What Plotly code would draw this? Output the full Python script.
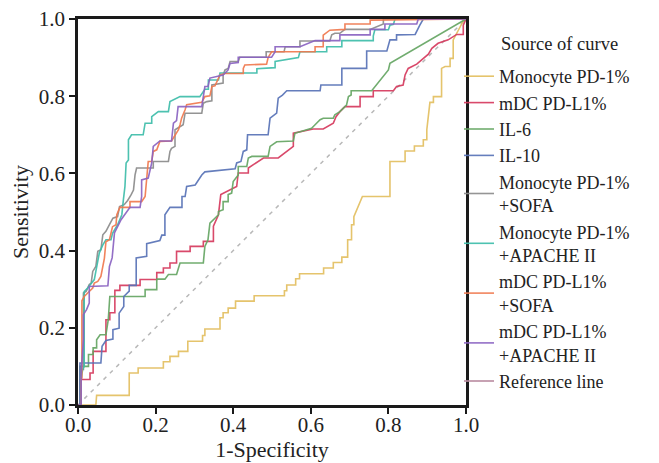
import plotly.graph_objects as go

# ---------------- data ----------------
TICK_VALUES = [0.0, 0.2, 0.4, 0.6, 0.8, 1.0]
TICK_LABELS = ["0.0", "0.2", "0.4", "0.6", "0.8", "1.0"]
X_TITLE = "1-Specificity"
Y_TITLE = "Sensitivity"
LEGEND_TITLE = "Source of curve"

# ROC vertices as (1-specificity, sensitivity)
MONOCYTE_PD1 = [(0, 0), (0.046, 0), (0.048, 0.025), (0.132, 0.025), (0.132, 0.083), (0.155, 0.083),
                (0.155, 0.096), (0.220, 0.096), (0.220, 0.112), (0.237, 0.112), (0.237, 0.126),
                (0.259, 0.126), (0.259, 0.139), (0.283, 0.139), (0.283, 0.165), (0.321, 0.165),
                (0.321, 0.180), (0.327, 0.180), (0.327, 0.197), (0.366, 0.197), (0.366, 0.226),
                (0.374, 0.226), (0.374, 0.239), (0.387, 0.239), (0.387, 0.251), (0.406, 0.251),
                (0.406, 0.269), (0.454, 0.269), (0.454, 0.283), (0.532, 0.283), (0.532, 0.296),
                (0.538, 0.296), (0.538, 0.311), (0.561, 0.311), (0.561, 0.327), (0.571, 0.327),
                (0.571, 0.340), (0.633, 0.340), (0.633, 0.355), (0.658, 0.355), (0.658, 0.369),
                (0.680, 0.369), (0.680, 0.383), (0.695, 0.383), (0.695, 0.428), (0.705, 0.428),
                (0.705, 0.467), (0.711, 0.467), (0.711, 0.488), (0.719, 0.506), (0.733, 0.540),
                (0.804, 0.540), (0.804, 0.631), (0.843, 0.631), (0.843, 0.658), (0.867, 0.658),
                (0.867, 0.671), (0.890, 0.671), (0.890, 0.687), (0.899, 0.687), (0.899, 0.713),
                (0.907, 0.784), (0.916, 0.784), (0.916, 0.799), (0.937, 0.799), (0.937, 0.872),
                (0.946, 0.877), (0.959, 0.877), (0.959, 0.898), (0.967, 0.898), (0.967, 0.946),
                (0.993, 0.995), (1, 1)]

MDC_PDL1 = [(0, 0), (0.005, 0), (0.005, 0.066), (0.031, 0.066), (0.031, 0.083), (0.039, 0.083),
            (0.039, 0.139), (0.072, 0.139), (0.072, 0.221), (0.082, 0.221), (0.082, 0.239),
            (0.095, 0.239), (0.095, 0.297), (0.108, 0.297), (0.108, 0.310), (0.160, 0.310),
            (0.160, 0.325), (0.203, 0.325), (0.203, 0.343), (0.220, 0.343), (0.220, 0.355),
            (0.237, 0.355), (0.237, 0.368), (0.254, 0.368), (0.254, 0.398), (0.289, 0.398),
            (0.289, 0.411), (0.323, 0.411), (0.323, 0.424), (0.349, 0.424), (0.349, 0.463),
            (0.362, 0.493), (0.368, 0.545), (0.392, 0.557), (0.409, 0.566), (0.413, 0.601),
            (0.439, 0.601), (0.439, 0.614), (0.478, 0.640), (0.516, 0.640), (0.555, 0.670),
            (0.555, 0.704), (0.572, 0.708), (0.606, 0.715), (0.632, 0.715), (0.658, 0.730),
            (0.665, 0.747), (0.675, 0.760), (0.688, 0.773), (0.727, 0.773), (0.727, 0.799),
            (0.761, 0.799), (0.761, 0.814), (0.813, 0.814), (0.821, 0.825), (0.838, 0.829),
            (0.843, 0.855), (0.851, 0.872), (0.873, 0.883), (0.890, 0.898), (0.903, 0.909),
            (0.912, 0.924), (0.928, 0.937), (0.954, 0.946), (0.967, 0.954), (0.976, 0.960),
            (0.993, 0.960), (0.993, 0.984), (1, 1)]

IL6 = [(0, 0), (0.005, 0), (0.005, 0.100), (0.027, 0.100), (0.027, 0.131), (0.039, 0.131),
       (0.039, 0.148), (0.048, 0.148), (0.048, 0.169), (0.057, 0.182), (0.072, 0.182),
       (0.078, 0.221), (0.082, 0.281), (0.173, 0.281), (0.173, 0.299), (0.203, 0.299),
       (0.203, 0.326), (0.224, 0.326), (0.233, 0.338), (0.254, 0.338), (0.263, 0.368),
       (0.323, 0.368), (0.327, 0.411), (0.335, 0.428), (0.340, 0.471), (0.362, 0.493),
       (0.362, 0.501), (0.374, 0.506), (0.374, 0.527), (0.387, 0.527), (0.387, 0.545),
       (0.396, 0.549), (0.400, 0.579), (0.413, 0.596), (0.413, 0.618), (0.435, 0.618),
       (0.439, 0.640), (0.448, 0.644), (0.490, 0.644), (0.495, 0.670), (0.512, 0.682),
       (0.555, 0.684), (0.559, 0.704), (0.572, 0.708), (0.602, 0.717), (0.611, 0.726),
       (0.624, 0.739), (0.632, 0.743), (0.658, 0.743), (0.662, 0.752), (0.675, 0.760),
       (0.692, 0.777), (0.697, 0.799), (0.704, 0.803), (0.704, 0.814), (0.757, 0.814),
       (0.783, 0.846), (0.800, 0.868), (0.804, 0.885), (1, 1)]

IL10 = [(0, 0), (0.005, 0), (0.005, 0.109), (0.059, 0.109), (0.062, 0.152), (0.072, 0.167),
        (0.090, 0.171), (0.090, 0.195), (0.106, 0.199), (0.106, 0.238), (0.118, 0.255),
        (0.118, 0.281), (0.132, 0.295), (0.132, 0.310), (0.150, 0.310), (0.150, 0.381),
        (0.177, 0.385), (0.177, 0.418), (0.211, 0.426), (0.216, 0.440), (0.224, 0.440),
        (0.224, 0.493), (0.237, 0.512), (0.268, 0.512), (0.268, 0.540), (0.276, 0.540),
        (0.280, 0.566), (0.302, 0.570), (0.319, 0.596), (0.327, 0.604), (0.405, 0.612),
        (0.409, 0.627), (0.420, 0.631), (0.426, 0.657), (0.435, 0.661), (0.437, 0.700),
        (0.490, 0.700), (0.495, 0.743), (0.512, 0.756), (0.516, 0.795), (0.527, 0.803),
        (0.538, 0.814), (0.624, 0.814), (0.626, 0.829), (0.680, 0.829), (0.680, 0.872),
        (0.744, 0.872), (0.744, 0.917), (0.796, 0.917), (0.800, 0.933), (0.804, 0.946),
        (0.821, 0.946), (0.821, 0.959), (0.869, 0.960), (0.876, 0.972), (0.881, 0.984),
        (0.890, 1.0), (1, 1)]

MONO_SOFA = [(0, 0), (0.008, 0), (0.008, 0.092), (0.014, 0.092), (0.014, 0.290), (0.021, 0.294),
             (0.029, 0.312), (0.034, 0.316), (0.038, 0.346), (0.046, 0.359), (0.051, 0.398),
             (0.059, 0.402), (0.064, 0.441), (0.072, 0.450), (0.081, 0.467), (0.090, 0.484),
             (0.102, 0.488), (0.107, 0.514), (0.119, 0.519), (0.128, 0.530), (0.137, 0.545),
             (0.143, 0.557), (0.147, 0.596), (0.151, 0.614), (0.194, 0.614), (0.194, 0.631),
             (0.233, 0.631), (0.237, 0.657), (0.241, 0.665), (0.250, 0.670), (0.250, 0.713),
             (0.271, 0.726), (0.276, 0.756), (0.319, 0.756), (0.323, 0.782), (0.332, 0.786),
             (0.345, 0.788), (0.345, 0.829), (0.374, 0.834), (0.374, 0.855), (0.379, 0.868),
             (0.387, 0.872), (0.392, 0.890), (0.413, 0.890), (0.417, 0.901), (0.485, 0.901),
             (0.485, 0.915), (0.531, 0.915), (0.534, 0.928), (0.572, 0.928), (0.572, 0.943),
             (0.649, 0.943), (0.654, 0.959), (0.662, 0.963), (0.675, 0.963), (0.688, 0.973),
             (0.753, 0.973), (0.787, 0.987), (0.787, 1.0), (1, 1)]

MONO_APACHE = [(0, 0), (0.008, 0), (0.008, 0.066), (0.012, 0.092), (0.016, 0.100), (0.016, 0.294),
               (0.025, 0.303), (0.034, 0.316), (0.042, 0.325), (0.046, 0.346), (0.055, 0.394),
               (0.064, 0.415), (0.072, 0.428), (0.085, 0.428), (0.089, 0.445), (0.102, 0.467),
               (0.113, 0.493), (0.117, 0.532), (0.121, 0.566), (0.124, 0.627), (0.130, 0.635),
               (0.130, 0.687), (0.138, 0.700), (0.168, 0.700), (0.173, 0.730), (0.190, 0.730),
               (0.190, 0.747), (0.207, 0.760), (0.233, 0.760), (0.237, 0.786), (0.263, 0.799),
               (0.314, 0.799), (0.327, 0.818), (0.336, 0.818), (0.336, 0.842), (0.362, 0.842),
               (0.366, 0.860), (0.461, 0.860), (0.461, 0.871), (0.508, 0.874), (0.508, 0.890),
               (0.568, 0.900), (0.572, 0.915), (0.641, 0.915), (0.641, 0.928), (0.680, 0.928),
               (0.680, 0.944), (0.761, 0.944), (0.761, 0.956), (0.765, 0.972), (0.800, 0.972),
               (0.804, 0.984), (0.813, 0.986), (0.817, 1.0), (1, 1)]

MDC_SOFA = [(0, 0), (0.008, 0), (0.008, 0.070), (0.010, 0.070), (0.010, 0.270), (0.016, 0.281),
            (0.029, 0.294), (0.038, 0.303), (0.042, 0.316), (0.051, 0.320), (0.059, 0.333),
            (0.068, 0.380), (0.072, 0.423), (0.081, 0.428), (0.085, 0.445), (0.089, 0.462),
            (0.098, 0.467), (0.100, 0.493), (0.108, 0.512), (0.134, 0.512), (0.134, 0.527),
            (0.164, 0.527), (0.173, 0.540), (0.177, 0.583), (0.181, 0.631), (0.190, 0.631),
            (0.194, 0.657), (0.203, 0.661), (0.207, 0.674), (0.211, 0.683), (0.241, 0.684),
            (0.250, 0.698), (0.259, 0.713), (0.263, 0.726), (0.267, 0.743), (0.276, 0.765),
            (0.280, 0.778), (0.319, 0.784), (0.327, 0.799), (0.340, 0.801), (0.345, 0.825),
            (0.353, 0.827), (0.366, 0.855), (0.379, 0.859), (0.426, 0.859), (0.426, 0.872),
            (0.430, 0.881), (0.486, 0.883), (0.490, 0.900), (0.499, 0.915), (0.611, 0.915),
            (0.611, 0.928), (0.632, 0.928), (0.632, 0.958), (0.649, 0.971), (0.688, 0.973),
            (0.688, 0.987), (0.753, 0.987), (0.753, 0.997), (1, 1)]

MDC_APACHE = [(0, 0), (0.008, 0), (0.008, 0.080), (0.014, 0.170), (0.014, 0.234), (0.022, 0.247),
              (0.029, 0.264), (0.029, 0.307), (0.077, 0.309), (0.081, 0.359), (0.088, 0.381),
              (0.094, 0.446), (0.111, 0.480), (0.124, 0.497), (0.134, 0.512), (0.160, 0.512),
              (0.164, 0.540), (0.164, 0.583), (0.181, 0.588), (0.190, 0.627), (0.194, 0.670),
              (0.211, 0.684), (0.241, 0.684), (0.246, 0.730), (0.254, 0.737), (0.258, 0.773),
              (0.319, 0.773), (0.327, 0.825), (0.335, 0.825), (0.340, 0.847), (0.374, 0.855),
              (0.387, 0.868), (0.392, 0.885), (0.413, 0.887), (0.413, 0.901), (0.499, 0.901),
              (0.508, 0.915), (0.508, 0.928), (0.572, 0.928), (0.611, 0.944), (0.675, 0.944),
              (0.675, 0.959), (0.753, 0.959), (0.753, 0.973), (0.791, 0.973), (0.791, 0.987),
              (0.873, 0.987), (0.877, 1.0), (1, 1)]

REFERENCE = [(0, 0), (1, 1)]

SERIES = [
    ("Monocyte PD-1%", MONOCYTE_PD1, "#E3BF60"),
    ("mDC PD-L1%", MDC_PDL1, "#D63A5E"),
    ("IL-6", IL6, "#65A663"),
    ("IL-10", IL10, "#5873B7"),
    ("Monocyte PD-1%<br>+SOFA", MONO_SOFA, "#8C8C8C"),
    ("Monocyte PD-1%<br>+APACHE II", MONO_APACHE, "#3EBDAA"),
    ("mDC PD-L1%<br>+SOFA", MDC_SOFA, "#F0794F"),
    ("mDC PD-L1%<br>+APACHE II", MDC_APACHE, "#8A63C2"),
]
REF_NAME = "Reference line"
REF_LEGEND_COLOR = "#B98BA0"
REF_LINE_COLOR = "#B8B8B8"

FONT = "Liberation Serif, Times New Roman, serif"

fig = go.Figure()

fig.add_trace(go.Scatter(
    x=[p[0] for p in REFERENCE], y=[p[1] for p in REFERENCE], mode="lines",
    line=dict(color=REF_LINE_COLOR, width=1.5, dash="4px,5px"),
    showlegend=False, hoverinfo="skip"))

for name, pts, color in SERIES:
    fig.add_trace(go.Scatter(
        x=[p[0] for p in pts], y=[p[1] for p in pts], mode="lines", name=name,
        line=dict(color=color, width=1.6), opacity=0.92))

fig.add_trace(go.Scatter(x=[None], y=[None], mode="lines", name=REF_NAME,
                         line=dict(color=REF_LEGEND_COLOR, width=1.6)))

axis_common = dict(
    range=[0, 1], showline=True, linecolor="#1a1a1a", linewidth=2.5, mirror=True,
    ticks="outside", ticklen=6, tickwidth=2, tickcolor="#1a1a1a",
    showgrid=False, zeroline=False, tickvals=TICK_VALUES, ticktext=TICK_LABELS,
    tickfont=dict(family=FONT, size=21, color="#222222"), automargin=False,
    ticklabeloverflow="allow",
)

# the page body adds an 8 px offset; figure is sized to fit the 659x463 window
PAGE_OFFSET = 8
W, H = 651, 455
ML, MR, MT, MB = 70, 193, 11, 58
PW, PH = W - ML - MR, H - MT - MB

def px_x(page_px):
    return (page_px - PAGE_OFFSET - ML) / PW

def px_y(page_py):
    return 1 - (page_py - PAGE_OFFSET - MT) / PH

fig.update_layout(
    width=W, height=H,
    margin=dict(l=ML, r=MR, t=MT, b=MB),
    paper_bgcolor="white", plot_bgcolor="white",
    font=dict(family=FONT, color="#222222"),
    xaxis=dict(**axis_common, ticklabelstandoff=-7,
               title=dict(text=X_TITLE, font=dict(family=FONT, size=22), standoff=4)),
    yaxis=dict(**axis_common,
               title=dict(text=Y_TITLE, font=dict(family=FONT, size=22), standoff=8)),
    showlegend=True,
    legend=dict(
        x=px_x(459), y=px_y(58), xanchor="left", yanchor="top",
        bgcolor="rgba(0,0,0,0)", borderwidth=0, itemwidth=30,
        font=dict(family=FONT, size=18, color="#222222"),
        tracegroupgap=0,
    ),
    annotations=[dict(
        text=LEGEND_TITLE, x=px_x(499), y=px_y(44), xref="paper", yref="paper",
        xanchor="left", yanchor="middle", showarrow=False,
        font=dict(family=FONT, size=18.5, color="#222222"))],
)

fig.write_html("out.html")
